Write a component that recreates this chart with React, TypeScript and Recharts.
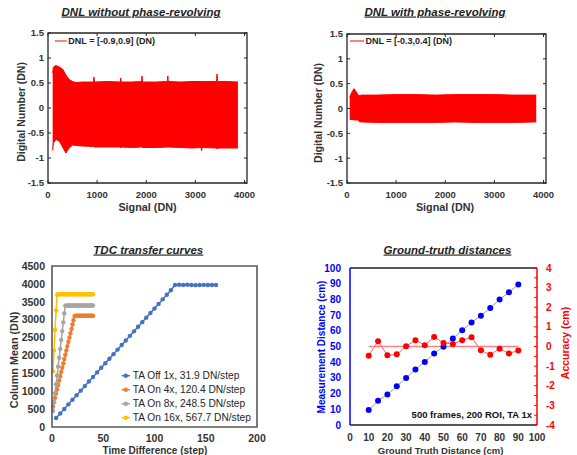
import { ComposedChart, Line, Area, XAxis, YAxis } from 'recharts'

const W = 577
const H = 455
const FONT = '"Liberation Sans", Arial, Helvetica, sans-serif'

// --- DNL without phase-revolving (envelope of the dense trace)
const dnlOffSignal = [95, 110, 162, 230, 297, 364, 431, 500, 566, 700, 925, 935, 945, 1200, 1470, 1480, 1490, 1700, 1903, 1913, 1923, 2200, 2428, 2438, 2448, 2700, 2950, 3115, 3125, 3135, 3430, 3440, 3450, 3650, 3865]
const dnlOffHigh = [0.7, 0.82, 0.85, 0.82, 0.78, 0.66, 0.57, 0.53, 0.51, 0.52, 0.52, 0.62, 0.52, 0.53, 0.52, 0.6, 0.52, 0.52, 0.53, 0.64, 0.52, 0.52, 0.53, 0.64, 0.53, 0.52, 0.53, 0.53, 0.53, 0.53, 0.53, 0.68, 0.53, 0.53, 0.52]
const dnlOffLow = [-0.85, -0.7, -0.63, -0.66, -0.78, -0.9, -0.8, -0.74, -0.75, -0.76, -0.77, -0.77, -0.78, -0.78, -0.78, -0.8, -0.78, -0.79, -0.78, -0.78, -0.79, -0.79, -0.78, -0.79, -0.78, -0.79, -0.8, -0.79, -0.86, -0.79, -0.8, -0.82, -0.8, -0.8, -0.8]

// --- DNL with phase-revolving
const dnlOnSignal = [55, 100, 143, 190, 225, 260, 300, 600, 1000, 1400, 1800, 2200, 2600, 3000, 3400, 3851]
const dnlOnHigh = [0.23, 0.33, 0.4, 0.33, 0.27, 0.26, 0.27, 0.27, 0.28, 0.28, 0.27, 0.28, 0.28, 0.28, 0.27, 0.27]
const dnlOnLow = [-0.22, -0.22, -0.23, -0.23, -0.23, -0.27, -0.27, -0.28, -0.28, -0.28, -0.28, -0.27, -0.28, -0.28, -0.28, -0.27]

const dnlXMax = 4050
const dnlTicksX = [0, 1000, 2000, 3000, 4000]
const dnlTicksY = [-1.5, -1, -0.5, 0, 0.5, 1, 1.5]

// --- TDC transfer curves
const offX = [4, 8, 12, 16, 20, 24, 28, 32, 36, 40, 44, 48, 52, 56, 60, 64, 68, 72, 76, 80, 84, 88, 92, 96, 100, 104, 108, 112, 116, 120, 124, 128, 132, 136, 140, 144, 148, 152, 156, 160]
const offY = [250, 378, 505, 633, 760, 888, 1016, 1143, 1271, 1398, 1526, 1654, 1781, 1909, 2036, 2164, 2292, 2419, 2547, 2674, 2802, 2930, 3057, 3185, 3312, 3440, 3568, 3695, 3823, 3970, 3975, 3972, 3978, 3970, 3965, 3968, 3972, 3970, 3968, 3970]
const on4X = [1, 2, 3, 4, 5, 6, 7, 8, 9, 10, 11, 12, 13, 14, 15, 16, 17, 18, 19, 20, 21, 22, 23, 24, 25, 26, 27, 28, 29, 30, 31, 32, 33, 34, 35, 36, 37, 38, 39, 40]
const on4Y = [575, 695, 815, 936, 1056, 1177, 1297, 1418, 1538, 1658, 1779, 1899, 2020, 2140, 2261, 2381, 2501, 2622, 2742, 2863, 2983, 3100, 3110, 3108, 3112, 3110, 3109, 3111, 3110, 3108, 3112, 3110, 3110, 3109, 3111, 3110, 3108, 3110, 3112, 3110]
const on8X = [1, 2, 3, 4, 5, 6, 7, 8, 9, 10, 11, 12, 13, 14, 15, 16, 17, 18, 19, 20, 21, 22, 23, 24, 25, 26, 27, 28, 29, 30, 31, 32, 33, 34, 35, 36, 37, 38, 39, 40]
const on8Y = [450, 700, 945, 1195, 1440, 1690, 1935, 2185, 2430, 2680, 2925, 3175, 3390, 3395, 3393, 3396, 3395, 3394, 3396, 3395, 3393, 3395, 3396, 3394, 3395, 3395, 3393, 3396, 3395, 3394, 3395, 3396, 3395, 3393, 3395, 3394, 3396, 3395, 3395, 3394]
const on16X = [1, 2, 3, 4, 5, 6, 7, 8, 9, 10, 11, 12, 13, 14, 15, 16, 17, 18, 19, 20, 21, 22, 23, 24, 25, 26, 27, 28, 29, 30, 31, 32, 33, 34, 35, 36, 37, 38, 39, 40]
const on16Y = [1560, 2140, 2720, 3260, 3700, 3710, 3708, 3711, 3710, 3709, 3710, 3711, 3710, 3708, 3710, 3711, 3710, 3709, 3710, 3711, 3710, 3708, 3710, 3711, 3710, 3709, 3710, 3711, 3710, 3708, 3710, 3711, 3710, 3709, 3710, 3711, 3710, 3708, 3710, 3710]
const tdcNames = ['TA Off 1x, 31.9 DN/step', 'TA On 4x, 120.4 DN/step', 'TA On 8x, 248.5 DN/step', 'TA On 16x, 567.7 DN/step']
const tdcColors = ['#4472C4', '#ED7D31', '#A5A5A5', '#FFC000']
const tdcTicksX = [0, 50, 100, 150, 200]
const tdcTicksY = [0, 500, 1000, 1500, 2000, 2500, 3000, 3500, 4000, 4500]

// --- Ground-truth distances
const gtX = [10, 15, 20, 25, 30, 35, 40, 45, 50, 55, 60, 65, 70, 75, 80, 85, 90]
const measY = [9.5, 15.4, 19.5, 24.7, 30.0, 35.3, 40.2, 45.5, 49.9, 55.1, 60.3, 65.3, 69.6, 74.6, 79.9, 84.5, 89.5]
const accY = [-0.47, 0.27, -0.45, -0.4, 0.01, 0.32, 0.07, 0.49, 0.18, 0.13, 0.32, 0.47, -0.19, -0.42, -0.11, -0.36, -0.2]
const zeroX = [10, 90]
const zeroY = [0, 0]
const gtTicksX = [0, 10, 20, 30, 40, 50, 60, 70, 80, 90, 100]
const gtTicksY = [0, 10, 20, 30, 40, 50, 60, 70, 80, 90, 100]
const accTicks = [-4, -3.5, -3, -2.5, -2, -1.5, -1, -0.5, 0, 0.5, 1, 1.5, 2, 2.5, 3, 3.5, 4]

// plot boxes (pixel frame of each panel)
const box1 = { l: 48, t: 33, r: 247, b: 183 }
const box2 = { l: 347, t: 34, r: 546, b: 183 }
const box3 = { l: 52, t: 266, r: 257, b: 427 }
const box4 = { l: 350, t: 268, r: 537, b: 425 }

const band = (xs: number[], lo: number[], hi: number[]) =>
  xs.map((s, i) => ({ s, band: [lo[i], hi[i]] }))

const pts = (xs: number[], ys: number[]) => xs.map((x, i) => ({ x, y: ys[i] }))

const tdcSeries = [
  pts(offX, offY),
  pts(on4X, on4Y),
  pts(on8X, on8Y),
  pts(on16X, on16Y),
]

const gtData = gtX.map((x, i) => ({ x, meas: measY[i], acc: accY[i] }))
const zeroData = pts(zeroX, zeroY)

type Box = { l: number; t: number; r: number; b: number }

const dnlTick = { fontSize: 9.5, fontWeight: 'bold', fill: '#333', fontFamily: FONT }
const frame = '#262626'

function DnlPanel({ data, box }: { data: { s: number; band: number[] }[]; box: Box }) {
  return (
    <div style={{ position: 'absolute', left: 0, top: 0 }}>
      <ComposedChart
        width={W}
        height={H}
        data={data}
        margin={{ top: box.t, right: W - box.r, bottom: H - box.b - 20, left: box.l - 40 }}
      >
        <XAxis
          dataKey="s"
          type="number"
          domain={[0, dnlXMax]}
          ticks={dnlTicksX}
          height={20}
          tick={dnlTick}
          axisLine={false}
          tickLine={false}
          tickSize={0}
          tickMargin={8}
          allowDataOverflow
        />
        <YAxis
          type="number"
          domain={[-1.5, 1.5]}
          ticks={dnlTicksY}
          width={40}
          tick={dnlTick}
          axisLine={false}
          tickLine={false}
          tickSize={0}
          tickMargin={4}
          interval={0}
          allowDataOverflow
        />
        <Area
          dataKey="band"
          type="linear"
          stroke="#ff0000"
          strokeWidth={1}
          fill="#ff0000"
          fillOpacity={1}
          isAnimationActive={false}
        />
      </ComposedChart>
    </div>
  )
}

const tdcTick = { fontSize: 10.5, fontWeight: 'bold', fill: '#333', fontFamily: FONT }

function TdcPanel() {
  const b = box3
  return (
    <div style={{ position: 'absolute', left: 0, top: 0 }}>
      <ComposedChart
        width={W}
        height={H}
        margin={{ top: b.t, right: W - b.r, bottom: H - b.b - 20, left: b.l - 40 }}
      >
        <XAxis
          dataKey="x"
          type="number"
          domain={[0, 200]}
          ticks={tdcTicksX}
          height={20}
          tick={tdcTick}
          axisLine={false}
          tickLine={false}
          tickSize={0}
          tickMargin={8}
        />
        <YAxis
          type="number"
          domain={[0, 4500]}
          ticks={tdcTicksY}
          width={40}
          tick={tdcTick}
          axisLine={false}
          tickLine={false}
          tickSize={0}
          tickMargin={7}
          interval={0}
        />
        {tdcSeries.map((d, i) => (
          <Line
            key={tdcNames[i]}
            data={d}
            dataKey="y"
            name={tdcNames[i]}
            type="linear"
            stroke={tdcColors[i]}
            strokeWidth={1.5}
            dot={{ r: 2.2, fill: tdcColors[i], stroke: 'none' }}
            isAnimationActive={false}
          />
        ))}
      </ComposedChart>
    </div>
  )
}

const gtTick = { fontSize: 10, fontWeight: 'bold', fill: '#333', fontFamily: FONT }

function GtPanel() {
  const b = box4
  return (
    <div style={{ position: 'absolute', left: 0, top: 0 }}>
      <ComposedChart
        width={W}
        height={H}
        data={gtData}
        margin={{ top: b.t, right: W - b.r - 20, bottom: H - b.b - 20, left: b.l - 40 }}
      >
        <XAxis
          dataKey="x"
          type="number"
          domain={[0, 100]}
          ticks={gtTicksX}
          height={20}
          tick={gtTick}
          axisLine={false}
          tickLine={false}
          tickSize={0}
          tickMargin={9}
          interval={0}
        />
        <YAxis
          type="number"
          domain={[0, 100]}
          ticks={gtTicksY}
          width={40}
          tick={{ ...gtTick, fill: '#0000ff' }}
          axisLine={false}
          tickLine={false}
          tickSize={0}
          tickMargin={9}
          interval={0}
        />
        <YAxis
          yAxisId="acc"
          orientation="right"
          type="number"
          domain={[-4, 4]}
          ticks={accTicks}
          width={20}
          tick={{ ...gtTick, fill: '#ff0000' }}
          tickFormatter={(v: number) => (Number.isInteger(v) ? String(v) : '')}
          axisLine={false}
          tickLine={false}
          tickSize={0}
          tickMargin={9}
          interval={0}
        />
        <Line
          yAxisId="acc"
          data={zeroData}
          dataKey="y"
          type="linear"
          stroke="#ff8080"
          strokeWidth={1.5}
          dot={false}
          isAnimationActive={false}
        />
        <Line
          dataKey="meas"
          type="linear"
          stroke="#9a9a9a"
          strokeWidth={1}
          dot={{ r: 3, fill: '#0000ff', stroke: 'none' }}
          isAnimationActive={false}
        />
        <Line
          yAxisId="acc"
          dataKey="acc"
          type="linear"
          stroke="#ff6060"
          strokeWidth={1}
          dot={{ r: 3, fill: '#ff0000', stroke: 'none' }}
          isAnimationActive={false}
        />
      </ComposedChart>
    </div>
  )
}

const titleStyle = {
  fontSize: 11.5,
  fontWeight: 'bold' as const,
  fontStyle: 'italic' as const,
  textDecoration: 'underline',
  fill: '#222',
}

// MATLAB style box with inward ticks on all four sides
function MatlabBox({ b }: { b: Box }) {
  const xs = dnlTicksX.map((v) => b.l + (v / dnlXMax) * (b.r - b.l))
  const ys = dnlTicksY.map((v) => b.b - ((v + 1.5) / 3) * (b.b - b.t))
  return (
    <g>
      <path
        d={`M${b.l},${b.t}H${b.r}V${b.b}H${b.l}Z`}
        fill="none"
        stroke={frame}
        strokeWidth={1.3}
      />
      {xs.map((x) => (
        <path key={'x' + x} d={`M${x},${b.b}v-3M${x},${b.t}v3`} stroke={frame} strokeWidth={1} />
      ))}
      {ys.map((y) => (
        <path key={'y' + y} d={`M${b.l},${y}h3M${b.r},${y}h-3`} stroke={frame} strokeWidth={1} />
      ))}
    </g>
  )
}

function Frames() {
  const b3 = box3
  const b4 = box4
  return (
    <svg
      width={W}
      height={H}
      style={{ position: 'absolute', left: 0, top: 0, pointerEvents: 'none' }}
    >
      <MatlabBox b={box1} />
      <MatlabBox b={box2} />
      <path
        d={`M${b3.l},${b3.t}H${b3.r}V${b3.b}H${b3.l}Z`}
        fill="none"
        stroke="#595959"
        strokeWidth={1.6}
      />
      <path d={`M${b4.l},${b4.t}H${b4.r}M${b4.l},${b4.b}H${b4.r}`} stroke="#222" strokeWidth={1.5} />
      <path d={`M${b4.l},${b4.t}V${b4.b}`} stroke="#0000ff" strokeWidth={1.5} />
      <path d={`M${b4.r},${b4.t}V${b4.b}`} stroke="#ff0000" strokeWidth={1.5} />
      {accTicks.map((v) => {
        const y = b4.b - ((v + 4) / 8) * (b4.b - b4.t)
        return <path key={v} d={`M${b4.r},${y}h-3`} stroke="#ff0000" strokeWidth={1} />
      })}
    </svg>
  )
}

function Overlay() {
  return (
    <svg
      width={W}
      height={H}
      style={{ position: 'absolute', left: 0, top: 0, pointerEvents: 'none', fontFamily: FONT }}
    >
      {/* titles */}
      <text x={141} y={15.5} textAnchor="middle" style={titleStyle}>DNL without phase-revolving</text>
      <text x={435} y={15.5} textAnchor="middle" style={titleStyle}>DNL with phase-revolving</text>
      <text x={148.3} y={253.5} textAnchor="middle" style={titleStyle}>TDC transfer curves</text>
      <text x={447.5} y={253.5} textAnchor="middle" style={titleStyle}>Ground-truth distances</text>

      {/* DNL axis titles */}
      <text x={147.5} y={210.5} textAnchor="middle" fontSize={10.8} fontWeight="bold" fill="#333">Signal (DN)</text>
      <text x={445} y={210.5} textAnchor="middle" fontSize={10.8} fontWeight="bold" fill="#333">Signal (DN)</text>
      <text x={24.8} y={112} transform="rotate(-90 24.8 112)" textAnchor="middle" fontSize={10.5} fontWeight="bold" fill="#333">Digital Number (DN)</text>
      <text x={321.8} y={113} transform="rotate(-90 321.8 113)" textAnchor="middle" fontSize={10.5} fontWeight="bold" fill="#333">Digital Number (DN)</text>

      {/* DNL legends */}
      <line x1={55} x2={66.7} y1={41} y2={41} stroke="#ff0000" strokeWidth={1} />
      <text x={68.3} y={44.2} fontSize={9} fontWeight="bold" fill="#222">DNL = [-0.9,0.9] (DN)</text>
      <line x1={350} x2={364} y1={41} y2={41} stroke="#ff0000" strokeWidth={1} />
      <text x={365.5} y={44.2} fontSize={9} fontWeight="bold" fill="#222">DNL = [-0.3,0.4] (DN)</text>

      {/* TDC axis titles */}
      <text x={155} y={453.6} textAnchor="middle" fontSize={10} fontWeight="bold" fill="#333">Time Difference (step)</text>
      <text x={17.9} y={360} transform="rotate(-90 17.9 360)" textAnchor="middle" fontSize={10.8} fontWeight="bold" fill="#333">Column Mean (DN)</text>

      {/* TDC legend */}
      {tdcNames.map((n, i) => {
        const cy = 375.7 + i * 14
        return (
          <g key={n}>
            <line x1={121.7} x2={130} y1={cy} y2={cy} stroke={tdcColors[i]} strokeWidth={1.5} />
            <circle cx={125.8} cy={cy} r={2.2} fill={tdcColors[i]} />
            <text x={132.7} y={cy + 3.6} fontSize={10.2} fill="#262626">{n}</text>
          </g>
        )
      })}

      {/* Ground-truth axis titles */}
      <text x={440.6} y={453.6} textAnchor="middle" fontSize={9.5} fontWeight="bold" fill="#333">Ground Truth Distance (cm)</text>
      <text x={325.3} y={347} transform="rotate(-90 325.3 347)" textAnchor="middle" fontSize={10} fontWeight="bold" fill="#0000ff">Measurement Distance (cm)</text>
      <text x={568.7} y={343} transform="rotate(-90 568.7 343)" textAnchor="middle" fontSize={10.5} fontWeight="bold" fill="#ff0000">Accuracy (cm)</text>
      <text x={532} y={418.3} textAnchor="end" fontSize={9.5} fontWeight="bold" fill="#111">500 frames, 200 ROI, TA 1x</text>
    </svg>
  )
}

export default function App() {
  return (
    <div style={{ position: 'absolute', left: 0, top: 0, width: W, height: H, background: '#fff', fontFamily: FONT }}>
      <DnlPanel data={band(dnlOffSignal, dnlOffLow, dnlOffHigh)} box={box1} />
      <DnlPanel data={band(dnlOnSignal, dnlOnLow, dnlOnHigh)} box={box2} />
      <TdcPanel />
      <GtPanel />
      <Frames />
      <Overlay />
    </div>
  )
}
